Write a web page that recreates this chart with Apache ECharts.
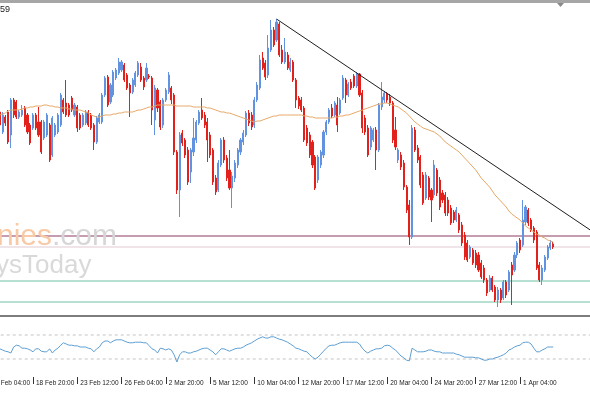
<!DOCTYPE html>
<html><head><meta charset="utf-8">
<script src="https://cdn.jsdelivr.net/npm/echarts@6/dist/echarts.min.js"></script>
<style>html,body{margin:0;padding:0;background:#fff;overflow:hidden;width:590px;height:393px;position:relative}#c{position:absolute;left:-13px;top:0;width:620px;height:393px}</style>
</head><body><div id="c"></div>
<script>
const tickLabels = ['16 Feb 04:00','18 Feb 20:00','23 Feb 12:00','26 Feb 04:00','2 Mar 20:00','5 Mar 12:00','10 Mar 04:00','12 Mar 20:00','17 Mar 12:00','20 Mar 04:00','24 Mar 20:00','27 Mar 12:00','1 Apr 04:00'];
const barsPerLabel = 16;

const open = [1.1887,1.1883,1.1890,1.1885,1.1893,1.1873,1.1888,1.1893,1.1870,1.1905,
1.1903,1.1888,1.1890,1.1897,1.1890,1.1880,1.1877,1.1890,1.1883,1.1883,
1.1867,1.1870,1.1880,1.1850,1.1870,1.1873,1.1880,1.1905,1.1902,1.1900,
1.1907,1.1890,1.1898,1.1890,1.1880,1.1882,1.1893,1.1890,1.1880,1.1863,
1.1883,1.1883,1.1910,1.1928,1.1903,1.1910,1.1927,1.1932,1.1935,1.1940,
1.1930,1.1920,1.1913,1.1920,1.1930,1.1938,1.1927,1.1925,1.1929,1.1927,
1.1885,1.1915,1.1903,1.1880,1.1905,1.1913,1.1917,1.1910,1.1853,1.1815,
1.1872,1.1865,1.1855,1.1833,1.1853,1.1865,1.1882,1.1895,1.1890,1.1883,
1.1870,1.1855,1.1827,1.1815,1.1840,1.1865,1.1847,1.1835,1.1817,1.1827,
1.1840,1.1853,1.1863,1.1870,1.1892,1.1890,1.1880,1.1905,1.1917,1.1947,
1.1942,1.1930,1.1955,1.1975,1.1965,1.1981,1.1955,1.1943,1.1950,1.1935,
1.1943,1.1925,1.1907,1.1905,1.1897,1.1877,1.1870,1.1863,1.1848,1.1825,
1.1840,1.1850,1.1873,1.1883,1.1897,1.1890,1.1900,1.1892,1.1907,1.1925,
1.1910,1.1923,1.1929,1.1919,1.1931,1.1912,1.1887,1.1877,1.1858,1.1865,
1.1875,1.1855,1.1898,1.1905,1.1911,1.1908,1.1902,1.1875,1.1845,1.1850,
1.1842,1.1818,1.1800,1.1768,1.1875,1.1857,1.1848,1.1830,1.1807,1.1827,
1.1815,1.1810,1.1835,1.1825,1.1812,1.1810,1.1805,1.1797,1.1793,1.1785,
1.1790,1.1780,1.1770,1.1762,1.1748,1.1755,1.1752,1.1750,1.1742,1.1737,
1.1725,1.1715,1.1727,1.1718,1.1705,1.1715,1.1707,1.1723,1.1715,1.1740,
1.1735,1.1750,1.1765,1.1760,1.1783,1.1795,1.1785,1.1777,1.1773,1.1740,
1.1725,1.1735,1.1747,1.1757,1.1761];

const close = [1.1883,1.1890,1.1885,1.1893,1.1880,1.1890,1.1882,1.1863,1.1905,1.1890,
1.1888,1.1893,1.1895,1.1880,1.1873,1.1862,1.1890,1.1877,1.1870,1.1853,
1.1883,1.1890,1.1845,1.1887,1.1880,1.1890,1.1910,1.1893,1.1890,1.1890,
1.1895,1.1900,1.1877,1.1877,1.1890,1.1893,1.1880,1.1877,1.1863,1.1887,
1.1890,1.1910,1.1927,1.1900,1.1920,1.1933,1.1935,1.1943,1.1943,1.1925,
1.1917,1.1912,1.1925,1.1932,1.1942,1.1925,1.1918,1.1937,1.1928,1.1895,
1.1917,1.1897,1.1878,1.1905,1.1915,1.1930,1.1905,1.1853,1.1815,1.1870,
1.1862,1.1850,1.1823,1.1855,1.1867,1.1883,1.1893,1.1887,1.1880,1.1865,
1.1850,1.1823,1.1813,1.1842,1.1865,1.1845,1.1827,1.1817,1.1829,1.1842,
1.1855,1.1865,1.1872,1.1892,1.1882,1.1878,1.1905,1.1920,1.1945,1.1937,
1.1928,1.1957,1.1975,1.1960,1.1983,1.1950,1.1943,1.1953,1.1937,1.1943,
1.1925,1.1905,1.1899,1.1895,1.1865,1.1862,1.1850,1.1840,1.1817,1.1848,
1.1853,1.1873,1.1883,1.1895,1.1889,1.1902,1.1880,1.1905,1.1927,1.1910,
1.1921,1.1917,1.1919,1.1931,1.1910,1.1877,1.1873,1.1850,1.1877,1.1875,
1.1855,1.1900,1.1908,1.1912,1.1905,1.1902,1.1865,1.1858,1.1855,1.1838,
1.1818,1.1795,1.1768,1.1877,1.1855,1.1845,1.1820,1.1802,1.1830,1.1808,
1.1805,1.1840,1.1812,1.1798,1.1805,1.1792,1.1792,1.1782,1.1785,1.1795,
1.1775,1.1762,1.1748,1.1745,1.1758,1.1742,1.1740,1.1735,1.1728,1.1725,
1.1712,1.1727,1.1715,1.1705,1.1715,1.1705,1.1723,1.1710,1.1733,1.1730,
1.1750,1.1762,1.1755,1.1785,1.1798,1.1782,1.1775,1.1765,1.1737,1.1725,
1.1737,1.1748,1.1758,1.1762,1.1758];

const high = [1.1890,1.1893,1.1893,1.1895,1.1895,1.1893,1.1890,1.1895,1.1907,1.1907,
1.1905,1.1895,1.1900,1.1899,1.1892,1.1882,1.1892,1.1892,1.1898,1.1885,
1.1885,1.1892,1.1882,1.1889,1.1882,1.1892,1.1912,1.1907,1.1925,1.1902,
1.1909,1.1902,1.1900,1.1892,1.1892,1.1895,1.1895,1.1892,1.1882,1.1889,
1.1892,1.1912,1.1929,1.1930,1.1922,1.1935,1.1937,1.1947,1.1945,1.1942,
1.1932,1.1922,1.1927,1.1934,1.1944,1.1942,1.1929,1.1942,1.1931,1.1929,
1.1920,1.1917,1.1905,1.1907,1.1917,1.1933,1.1919,1.1912,1.1855,1.1873,
1.1875,1.1867,1.1858,1.1857,1.1887,1.1885,1.1895,1.1907,1.1893,1.1887,
1.1873,1.1857,1.1830,1.1845,1.1867,1.1868,1.1850,1.1855,1.1833,1.1845,
1.1857,1.1867,1.1875,1.1894,1.1895,1.1893,1.1908,1.1923,1.1950,1.1953,
1.1945,1.1970,1.1985,1.1978,1.1986,1.1983,1.1960,1.1967,1.1953,1.1947,
1.1945,1.1927,1.1909,1.1908,1.1899,1.1880,1.1873,1.1865,1.1850,1.1850,
1.1855,1.1875,1.1885,1.1897,1.1901,1.1904,1.1908,1.1907,1.1930,1.1927,
1.1923,1.1926,1.1931,1.1933,1.1932,1.1915,1.1890,1.1880,1.1879,1.1877,
1.1878,1.1902,1.1923,1.1914,1.1913,1.1911,1.1904,1.1888,1.1857,1.1853,
1.1845,1.1820,1.1805,1.1880,1.1878,1.1860,1.1850,1.1833,1.1833,1.1829,
1.1817,1.1845,1.1837,1.1828,1.1815,1.1813,1.1808,1.1800,1.1795,1.1798,
1.1792,1.1783,1.1773,1.1765,1.1760,1.1757,1.1755,1.1753,1.1745,1.1740,
1.1727,1.1730,1.1729,1.1720,1.1718,1.1717,1.1725,1.1725,1.1735,1.1743,
1.1753,1.1764,1.1767,1.1805,1.1800,1.1797,1.1787,1.1779,1.1775,1.1743,
1.1740,1.1750,1.1760,1.1765,1.1763];

const low = [1.1880,1.1879,1.1882,1.1881,1.1877,1.1871,1.1879,1.1861,1.1857,1.1887,
1.1886,1.1886,1.1888,1.1878,1.1871,1.1860,1.1875,1.1875,1.1868,1.1851,
1.1865,1.1868,1.1843,1.1848,1.1868,1.1871,1.1878,1.1891,1.1888,1.1888,
1.1893,1.1888,1.1873,1.1875,1.1878,1.1880,1.1878,1.1875,1.1855,1.1861,
1.1881,1.1881,1.1908,1.1898,1.1901,1.1908,1.1925,1.1930,1.1933,1.1923,
1.1915,1.1888,1.1911,1.1918,1.1928,1.1923,1.1915,1.1923,1.1926,1.1880,
1.1870,1.1893,1.1875,1.1877,1.1903,1.1911,1.1901,1.1850,1.1811,1.1788,
1.1859,1.1847,1.1820,1.1822,1.1849,1.1862,1.1880,1.1885,1.1877,1.1843,
1.1847,1.1820,1.1810,1.1813,1.1838,1.1842,1.1824,1.1815,1.1797,1.1823,
1.1837,1.1850,1.1860,1.1868,1.1879,1.1875,1.1877,1.1903,1.1915,1.1935,
1.1925,1.1927,1.1953,1.1958,1.1963,1.1948,1.1941,1.1941,1.1935,1.1933,
1.1923,1.1897,1.1896,1.1893,1.1863,1.1859,1.1847,1.1837,1.1815,1.1822,
1.1837,1.1847,1.1870,1.1881,1.1887,1.1888,1.1873,1.1890,1.1905,1.1902,
1.1908,1.1915,1.1917,1.1917,1.1908,1.1872,1.1870,1.1848,1.1855,1.1863,
1.1835,1.1853,1.1895,1.1902,1.1902,1.1899,1.1862,1.1855,1.1842,1.1835,
1.1815,1.1792,1.1760,1.1766,1.1853,1.1842,1.1817,1.1800,1.1805,1.1805,
1.1783,1.1807,1.1809,1.1795,1.1802,1.1789,1.1789,1.1780,1.1782,1.1783,
1.1772,1.1759,1.1745,1.1743,1.1746,1.1740,1.1737,1.1733,1.1726,1.1722,
1.1709,1.1713,1.1713,1.1703,1.1698,1.1702,1.1705,1.1707,1.1713,1.1700,
1.1733,1.1747,1.1752,1.1758,1.1780,1.1779,1.1773,1.1762,1.1735,1.1723,
1.1720,1.1733,1.1745,1.1755,1.1756];

const movingAvg = [1.1888,1.1889,1.1889,1.1890,1.1890,1.1891,1.1892,1.1894,1.1895,1.1895,
1.1895,1.1895,1.1896,1.1897,1.1897,1.1898,1.1898,1.1899,1.1899,1.1899,
1.1900,1.1900,1.1899,1.1899,1.1898,1.1898,1.1897,1.1897,1.1897,1.1896,
1.1896,1.1895,1.1895,1.1895,1.1894,1.1893,1.1892,1.1890,1.1889,1.1888,
1.1888,1.1889,1.1890,1.1890,1.1890,1.1891,1.1891,1.1892,1.1892,1.1893,
1.1893,1.1893,1.1893,1.1894,1.1895,1.1895,1.1896,1.1897,1.1898,1.1898,
1.1899,1.1900,1.1900,1.1900,1.1900,1.1900,1.1900,1.1900,1.1899,1.1899,
1.1899,1.1899,1.1899,1.1899,1.1898,1.1898,1.1898,1.1898,1.1898,1.1897,
1.1897,1.1896,1.1895,1.1894,1.1893,1.1893,1.1892,1.1892,1.1891,1.1890,
1.1889,1.1888,1.1887,1.1886,1.1885,1.1884,1.1883,1.1884,1.1884,1.1885,
1.1886,1.1887,1.1888,1.1889,1.1889,1.1890,1.1890,1.1890,1.1890,1.1890,
1.1890,1.1890,1.1890,1.1890,1.1889,1.1889,1.1888,1.1888,1.1887,1.1887,
1.1887,1.1887,1.1887,1.1887,1.1887,1.1888,1.1888,1.1889,1.1889,1.1890,
1.1890,1.1891,1.1892,1.1893,1.1894,1.1895,1.1896,1.1897,1.1898,1.1899,
1.1900,1.1901,1.1901,1.1902,1.1902,1.1901,1.1900,1.1899,1.1898,1.1896,
1.1894,1.1892,1.1889,1.1886,1.1883,1.1881,1.1879,1.1877,1.1876,1.1875,
1.1874,1.1873,1.1871,1.1869,1.1866,1.1863,1.1861,1.1859,1.1857,1.1855,
1.1853,1.1850,1.1847,1.1844,1.1841,1.1838,1.1835,1.1831,1.1827,1.1824,
1.1821,1.1818,1.1814,1.1810,1.1807,1.1804,1.1801,1.1798,1.1794,1.1791,
1.1789,1.1787,1.1785,1.1782,1.1779,1.1777,1.1775,1.1773,1.1771,1.1770,
1.1768,1.1767,1.1765,1.1764,1.1763];

const rsi = [47,48,45,47,47,45,43,42,40,50,
53,52,48,48,47,45,42,47,47,43,
42,42,47,40,45,48,53,57,55,53,
53,52,52,50,50,50,48,47,42,47,
50,57,60,60,57,60,62,62,62,60,
58,57,57,58,58,58,57,57,52,47,
45,40,48,47,45,47,45,37,25,37,
42,42,40,40,42,43,45,47,48,48,
45,42,37,42,47,47,45,43,45,47,
48,48,50,53,55,57,60,63,65,67,
65,65,67,67,65,63,62,60,58,55,
52,48,47,45,43,42,37,33,30,33,
38,43,48,52,53,53,55,57,58,58,
58,58,58,58,55,48,43,40,43,45,
47,47,48,52,53,52,48,45,40,35,
32,28,27,48,45,42,42,42,43,45,
45,43,42,42,40,40,40,40,40,38,
37,35,33,33,33,33,32,32,30,28,
28,30,30,32,33,35,37,40,45,47,
50,52,53,57,58,58,55,48,42,42,
45,47,50,50,50];

const priceLevels = [1.1769, 1.1758, 1.1724, 1.1703];
const rsiLevels = [70, 30];
const trendStartIndex = 104;
const trendEnd = { index: 219, price: 1.1772 };

// layout (canvas is shifted 13px left of the page so the first, cut-off label can be drawn)
const SHIFT = 13;
const N_CAT = 220, BAR = 2.767, LEFT = 0.35;
const categories = Array.from({length: N_CAT}, (_, i) => String(i));
const candles = open.map((o, i) => [o, close[i], low[i], high[i]]);
const trend = [[trendStartIndex, high[trendStartIndex]], [trendEnd.index, trendEnd.price]];
const levelStyles = [
  {color:'#c69cb0', width:2},
  {color:'#e0c9d2', width:1},
  {color:'#9fd4c3', width:1.5},
  {color:'#9fd4c3', width:1.5}
];
const showTick = (idx) => idx % barsPerLabel === 0 && idx / barsPerLabel < tickLabels.length;

const levelSeries = priceLevels.map((v, i) => ({
  type:'line', xAxisIndex:0, yAxisIndex:0, data:[[0, v], [N_CAT - 1, v]],
  showSymbol:false, symbol:'none', silent:true, z:2, lineStyle:levelStyles[i]
}));
const rsiLevelSeries = rsiLevels.map(v => ({
  type:'line', xAxisIndex:1, yAxisIndex:1, data:[[0, v], [N_CAT - 1, v]],
  showSymbol:false, symbol:'none', silent:true, z:2, lineStyle:{color:'#c4c4c4', width:1, type:[3,3]}
}));

const chart = echarts.init(document.getElementById('c'), null, {renderer:'canvas'});
chart.setOption({
  animation: false,
  backgroundColor: '#ffffff',
  grid: [
    {left: LEFT, top: 5, width: N_CAT * BAR, height: 308},
    {left: LEFT, top: 317, width: N_CAT * BAR, height: 60}
  ],
  xAxis: [
    {type:'category', gridIndex:0, data:categories, boundaryGap:true,
     axisLine:{show:false}, axisTick:{show:false}, axisLabel:{show:false}, splitLine:{show:false}},
    {type:'category', gridIndex:1, data:categories, boundaryGap:true,
     axisLine:{show:false},
     axisTick:{show:true, alignWithLabel:true, interval:(i)=>showTick(i), length:7, lineStyle:{color:'#333', width:1}},
     axisLabel:{show:true, interval:(i)=>showTick(i), hideOverlap:false, showMinLabel:true, showMaxLabel:true,
       formatter:(v, i)=> showTick(i) ? tickLabels[i / barsPerLabel] : '',
       align:'left', margin:3, padding:[0,0,0,3], fontSize:6.5, color:'#1a1a1a',
       fontFamily:'"Liberation Sans", Arial, sans-serif'},
     splitLine:{show:false}}
  ],
  yAxis: [
    {gridIndex:0, type:'value', min:1.1692, max:1.2000, show:false, splitLine:{show:false}},
    {gridIndex:1, type:'value', min:0, max:100, show:false, splitLine:{show:false}}
  ],
  series: levelSeries.concat(rsiLevelSeries).concat([
    {type:'candlestick', xAxisIndex:0, yAxisIndex:0, data:candles, barWidth:1.6, z:3,
     itemStyle:{color:'#6293e0', color0:'#e3211c', borderColor:'#6293e0', borderColor0:'#e3211c', borderWidth:1}},
    {type:'line', xAxisIndex:0, yAxisIndex:0, data:movingAvg, showSymbol:false, symbol:'none', z:4,
     lineStyle:{color:'#e6a868', width:1}},
    {type:'line', xAxisIndex:0, yAxisIndex:0, data:trend, showSymbol:false, symbol:'none', z:5,
     lineStyle:{color:'#1e1e1e', width:1}},
    {type:'line', xAxisIndex:1, yAxisIndex:1, data:rsi, showSymbol:false, symbol:'none', z:4,
     lineStyle:{color:'#5e9fd3', width:1}}
  ]),
  graphic: [
    {type:'rect', shape:{x:0, y:0, width:620, height:3}, style:{fill:'#a6a6a6'}, z:100},
    {type:'polygon', shape:{points:[[557+SHIFT,3],[564+SHIFT,3],[560.5+SHIFT,7]]}, style:{fill:'#8a8a8a'}, z:100},
    {type:'text', x:0+SHIFT, y:5, style:{text:'59', fontSize:9, fill:'#222', fontFamily:'Liberation Sans, Arial, sans-serif'}, z:100},
    {type:'rect', shape:{x:0, y:315, width:620, height:2}, style:{fill:'#7d7d7d'}, z:100},
    {type:'text', x:-3+SHIFT, y:222, style:{text:'nies', fontSize:30, fill:'#f8c9a5', fontFamily:'Liberation Sans, Arial, sans-serif'}, z:50},
    {type:'text', x:52+SHIFT, y:222, style:{text:'.com', fontSize:30, fill:'#d6d6d6', fontFamily:'Liberation Sans, Arial, sans-serif'}, z:50},
    {type:'text', x:-4+SHIFT, y:253, style:{text:'ysToday', fontSize:26, fill:'#d9d9d9', fontFamily:'Liberation Sans, Arial, sans-serif'}, z:50}
  ]
});
</script>
</body></html>
